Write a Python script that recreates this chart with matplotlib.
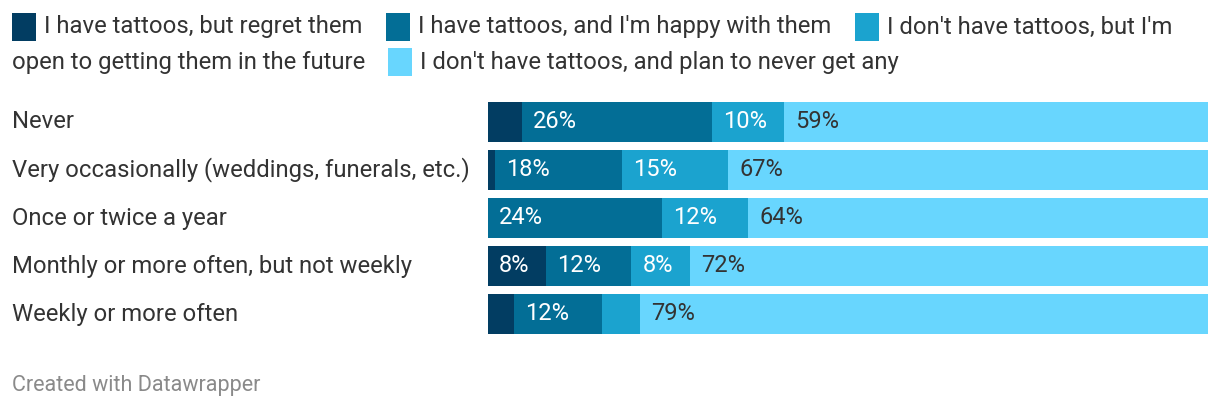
import matplotlib.pyplot as plt
from matplotlib.patches import Rectangle

plt.rcParams["font.family"] = ["Roboto", "DejaVu Sans"]

# --- Data ---
categories = [
    "Never",
    "Very occasionally (weddings, funerals, etc.)",
    "Once or twice a year",
    "Monthly or more often, but not weekly",
    "Weekly or more often",
]
series_names = [
    "I have tattoos, but regret them",
    "I have tattoos, and I'm happy with them",
    "I don't have tattoos, but I'm open to getting them in the future",
    "I don't have tattoos, and plan to never get any",
]
regret = [4.7, 1.0, 0.0, 8.0, 3.6]
happy = [26.4, 17.6, 24.2, 11.9, 12.2]
open_future = [10.0, 14.8, 11.9, 8.1, 5.3]
never_get = [58.9, 66.6, 63.9, 72.0, 78.9]

colors = ["#023d62", "#036e96", "#1ba3cf", "#68d6fe"]
label_colors = ["white", "white", "white", "#333333"]

W, H = 1220, 412
fig = plt.figure(figsize=(W / 100, H / 100), dpi=100)


def fx(px):
    return px / W


def fy(py):
    return 1 - py / H


# --- Bars ---
bar_h = 40 / 48
ax = fig.add_axes([fx(488), fy(334), fx(720), (334 - 102) / H])
series = [regret, happy, open_future, never_get]
ypos = list(range(len(categories)))
left = [0.0] * len(categories)
for vals, col, lcol in zip(series, colors, label_colors):
    ax.barh(ypos, vals, left=left, height=bar_h, color=col, linewidth=0)
    for i, v in enumerate(vals):
        if v >= 7:
            ax.annotate(f"{int(v + 0.5)}%", xy=(left[i], i), xytext=(8, 0),
                        textcoords="offset points", va="center", ha="left",
                        color=lcol, fontsize=17)
    left = [l + v for l, v in zip(left, vals)]

ax.set_xlim(0, 100)
ax.set_ylim(len(categories) - 1 + bar_h / 2, -bar_h / 2)
ax.axis("off")

for i, cat in enumerate(categories):
    fig.text(fx(12), fy(122 + 48 * i), cat, ha="left", va="center",
             fontsize=17.2, color="#333333")

# --- Legend ---
legend_items = [
    (12, 27, series_names[0]),
    (386, 27, series_names[1]),
    (855, 27, "I don't have tattoos, but I'm"),
    (388, 62, series_names[3]),
]
for (x, y, txt), col in zip(legend_items, colors):
    fig.patches.append(Rectangle((fx(x), fy(y + 14)), fx(24), 28 / H,
                                 transform=fig.transFigure, color=col, linewidth=0))
    fig.text(fx(x + 32), fy(y), txt, ha="left", va="center",
             fontsize=17.2, color="#333333")
fig.text(fx(12), fy(62), "open to getting them in the future", ha="left",
         va="center", fontsize=17.2, color="#333333")

# --- Footer ---
fig.text(fx(12), fy(386), "Created with Datawrapper", ha="left", va="center",
         fontsize=15.5, color="#8a8a8a")

fig.savefig("out.png", dpi=100)
